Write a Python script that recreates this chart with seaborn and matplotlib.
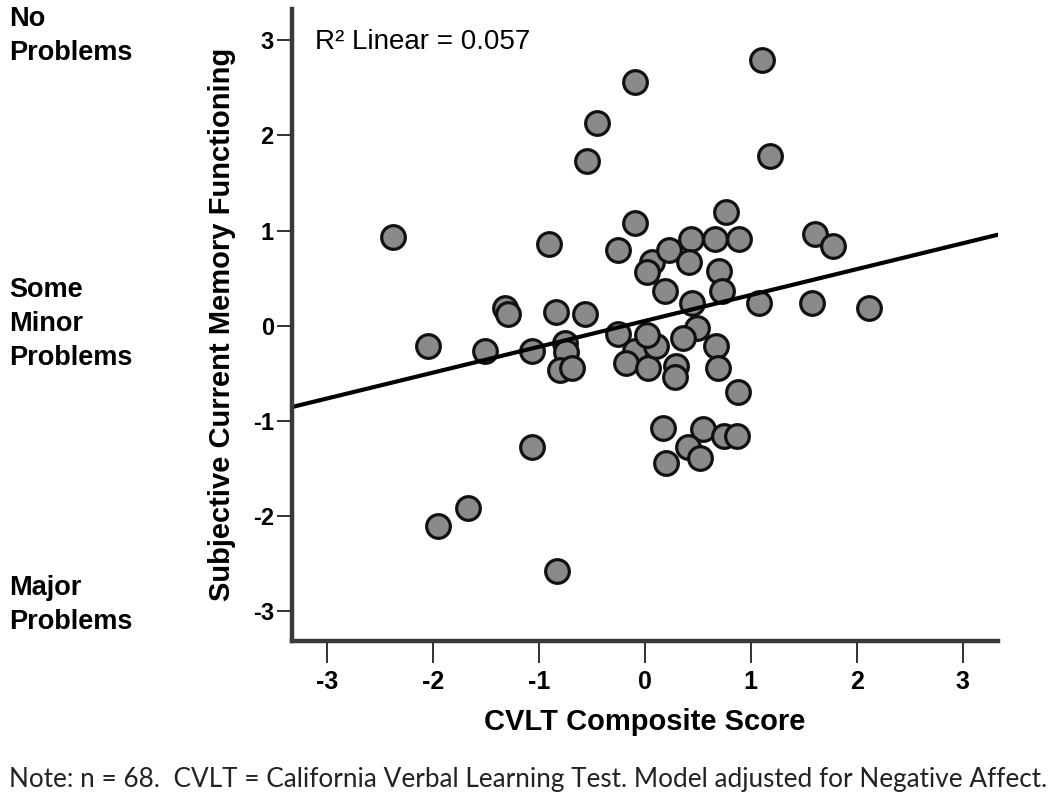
import numpy as np
import pandas as pd
import seaborn as sns
import matplotlib.pyplot as plt

# CVLT composite (x) vs subjective memory functioning (y)
cvlt = [-2.38, -0.09, -0.45, -0.54, -0.09, -0.90, -0.25, 0.07, 0.02, 0.19,
        -1.32, -1.29, -0.84, -0.56, 1.11, 1.18, 0.77, 0.44, 0.66, 0.89,
        0.23, 0.42, 0.70, 0.73, 0.45, 1.08, 1.61, 1.78, 1.58, 2.12,
        0.49, -2.05, -1.51, -1.06, -0.75, -0.74, -0.80, -0.69, -0.25, -0.09,
        -0.18, 0.03, 0.11, 0.02, -1.06, -1.67, -1.95, -0.83, 0.36, 0.30,
        0.29, 0.67, 0.69, 0.88, 0.17, 0.55, 0.75, 0.87, 0.41, 0.52, 0.20]
memory = [0.93, 2.56, 2.13, 1.73, 1.08, 0.86, 0.80, 0.67, 0.56, 0.36,
          0.19, 0.12, 0.14, 0.12, 2.79, 1.78, 1.19, 0.91, 0.91, 0.91,
          0.80, 0.67, 0.58, 0.36, 0.24, 0.24, 0.96, 0.84, 0.24, 0.19,
          -0.02, -0.21, -0.27, -0.27, -0.18, -0.28, -0.46, -0.44, -0.09, -0.27,
          -0.39, -0.44, -0.21, -0.10, -1.27, -1.92, -2.10, -2.58, -0.13, -0.42,
          -0.54, -0.21, -0.44, -0.70, -1.07, -1.09, -1.16, -1.16, -1.27, -1.39, -1.44]
ticks = [-3, -2, -1, 0, 1, 2, 3]
anchor_labels = ['No\nProblems', 'Some\nMinor\nProblems', 'Major\nProblems']
anchor_tops = [0.992, 0.652, 0.278]
r2_text = 'R\u00b2 Linear = 0.057'
note = ('Note: n = 68.  CVLT = California Verbal Learning Test. '
        'Model adjusted for Negative Affect.')

df = pd.DataFrame({'cvlt': cvlt, 'memory': memory})

sns.set_style('white')
plt.rcParams['font.family'] = ['Liberation Sans', 'DejaVu Sans']
plt.rcParams['axes.unicode_minus'] = False
plt.rcParams['text.color'] = 'black'
plt.rcParams['axes.labelcolor'] = 'black'
plt.rcParams['xtick.color'] = 'black'
plt.rcParams['ytick.color'] = 'black'

fig = plt.figure(figsize=(10.5, 7.96), dpi=100)
ax = fig.add_axes([0.278, 0.195, 0.672, 0.794])
ax.set_xlim(-3.33, 3.33)
ax.set_ylim(-3.31, 3.33)

sns.regplot(data=df, x='cvlt', y='memory', ax=ax, ci=None, truncate=False,
            scatter_kws=dict(s=290, color='#8a8a8a', edgecolor='#111111',
                             linewidths=2.3, alpha=1),
            line_kws=dict(color='black', linewidth=3))

ax.set_xticks(ticks)
ax.set_yticks(ticks)
ax.tick_params(axis='x', bottom=True, direction='out', length=16, width=1.3,
               color='#222222', labelsize=18, pad=5)
ax.tick_params(axis='y', left=True, direction='out', length=11, width=1.3,
               color='#222222', labelsize=17, pad=2)
for lab in ax.get_xticklabels() + ax.get_yticklabels():
    lab.set_fontweight('bold')

for side in ['top', 'right']:
    ax.spines[side].set_visible(False)
for side in ['left', 'bottom']:
    ax.spines[side].set_linewidth(3.2)
    ax.spines[side].set_color('#3a3a3a')

ax.set_xlabel('CVLT Composite Score', fontsize=21, fontweight='bold', labelpad=10)
ax.set_ylabel('Subjective Current Memory Functioning', fontsize=21,
              fontweight='bold', labelpad=12)

ax.text(0.033, 0.948, r2_text, transform=ax.transAxes, fontsize=20,
        ha='left', va='center')

for txt, top in zip(anchor_labels, anchor_tops):
    fig.text(0.009, top, txt, fontsize=19.5, fontweight='bold',
             ha='left', va='top', linespacing=1.4)

fig.text(0.009, 0.021, note, fontsize=18.8, family=['Lato', 'DejaVu Sans'],
         color='#222222', ha='left', va='center')

fig.savefig('out.png', dpi=100)
